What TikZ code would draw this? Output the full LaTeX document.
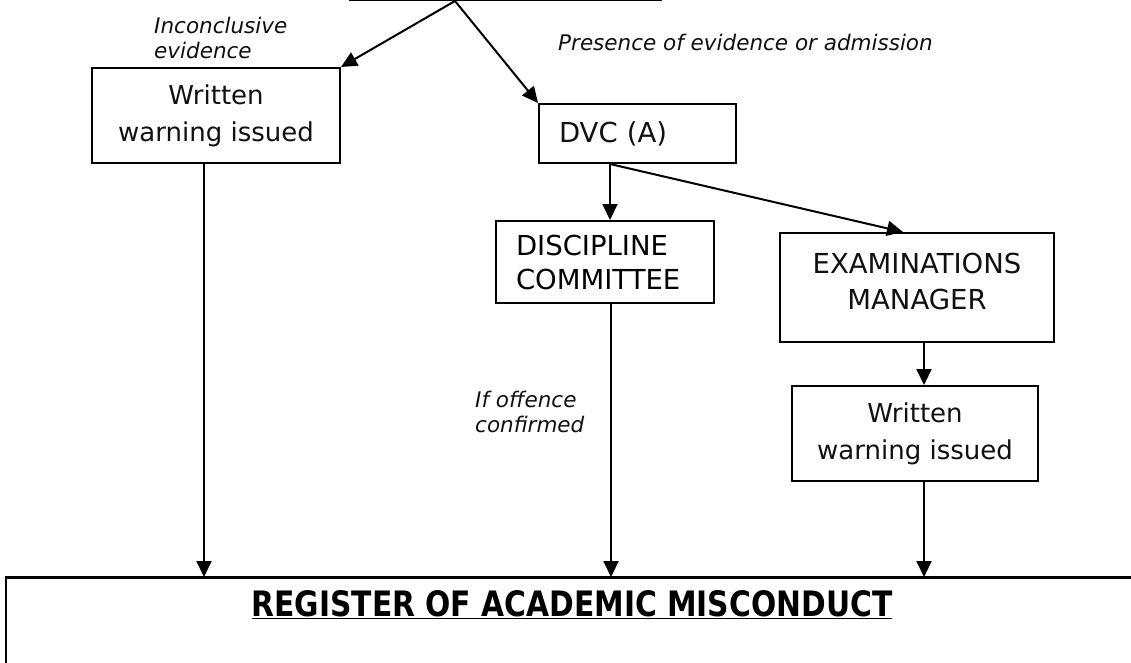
\documentclass[tikz,border=0pt]{standalone}
\usepackage{fontspec}
\usetikzlibrary{arrows.meta}
\setmainfont{DejaVu Sans}
\newfontfamily\titlefont[FakeStretch=0.85]{DejaVu Sans}
\definecolor{linecolor}{HTML}{000000}
\definecolor{textcolor}{HTML}{111111}
\newcommand{\picwidth}{1131}
\newcommand{\picheight}{662}
\tikzset{
  flowbox/.style={draw=linecolor, line width=2pt, inner sep=0pt,
    font=\fontsize{26}{37}\selectfont\color{textcolor}},
  capsbox/.style={flowbox, font=\fontsize{27.5}{36}\selectfont\color{textcolor}},
  note/.style={anchor=west, align=left, inner sep=0pt,
    font=\itshape\fontsize{21.5}{25}\selectfont\color{textcolor}},
  arr/.style={draw=linecolor, line width=2pt, -{Triangle[length=16pt,width=15pt]}}
}

\begin{document}
\begin{tikzpicture}[x=1pt, y=-1pt]
  \clip (0,0) rectangle (\picwidth, \picheight);
  \fill[white] (0,0) rectangle (\picwidth, \picheight);

  % === TOP BOX (cut off by the page) ===
  \node[flowbox, minimum width=311pt, minimum height=60pt, anchor=south] (report) at (505.5, 1) {};
  \coordinate (split) at (455, 1);

  % === LEFT BRANCH ===
  \node[flowbox, minimum width=248pt, minimum height=95pt, align=center] (warnleft) at (216, 115.5)
    {Written\\warning issued};
  \node[note] (inconcl) at (154, 38) {Inconclusive\\evidence};

  % === RIGHT BRANCH ===
  \node[capsbox, text width=157pt, inner xsep=20pt, minimum height=59pt, align=left] (dvc) at (637.5, 133.5)
    {DVC (A)};
  \node[note] (presence) at (558, 42) {Presence of evidence or admission};

  \node[capsbox, text width=178pt, inner xsep=20pt, minimum height=82pt, align=left,
    font=\fontsize{27.5}{34}\selectfont] (discipline) at (605, 262)
    {DISCIPLINE\\COMMITTEE};
  \node[capsbox, text width=274pt, minimum height=109pt, align=center] (exams) at (917, 287.5)
    {EXAMINATIONS\\MANAGER\\[-24pt]\mbox{}};
  \node[flowbox, minimum width=246pt, minimum height=95pt, align=center] (warnright) at (915, 433.5)
    {Written\\warning issued};
  \node[note] (confirmed) at (475, 412) {If offence\\confirmed};

  % === REGISTER ===
  \node[draw=linecolor, line width=2pt, minimum width=1150pt, minimum height=130pt, anchor=north west,
    inner sep=0pt] (register) at (5, 577) {};
  \draw[linecolor, line width=3pt] (register.north west) -- (register.north east);
  \node[anchor=center, font=\titlefont\bfseries\fontsize{35}{40}\selectfont] (regtitle) at (572, 605)
    {\underline{REGISTER OF ACADEMIC MISCONDUCT}};

  % connector ends
  \coordinate (dvcout) at ([xshift=72pt]dvc.south west);
  \coordinate (leftdown) at ([xshift=-12pt]warnleft.south);
  \coordinate (discdown) at ([xshift=6pt]discipline.south);
  \coordinate (examdown) at ([xshift=7pt]exams.south);
  \coordinate (warndown) at ([xshift=9pt]warnright.south);

  % === CONNECTORS ===
  \draw[arr] (split) -- (warnleft.north east);
  \draw[arr] (split) -- (dvc.north west);
  \draw[arr] (dvcout) -- (dvcout |- discipline.north);
  \draw[arr] (dvcout) -- ([xshift=-14pt]exams.north);
  \draw[arr] (examdown) -- (examdown |- warnright.north);
  \draw[arr] (leftdown) -- (leftdown |- register.north);
  \draw[arr] (discdown) -- (discdown |- register.north);
  \draw[arr] (warndown) -- (warndown |- register.north);
\end{tikzpicture}
\end{document}
